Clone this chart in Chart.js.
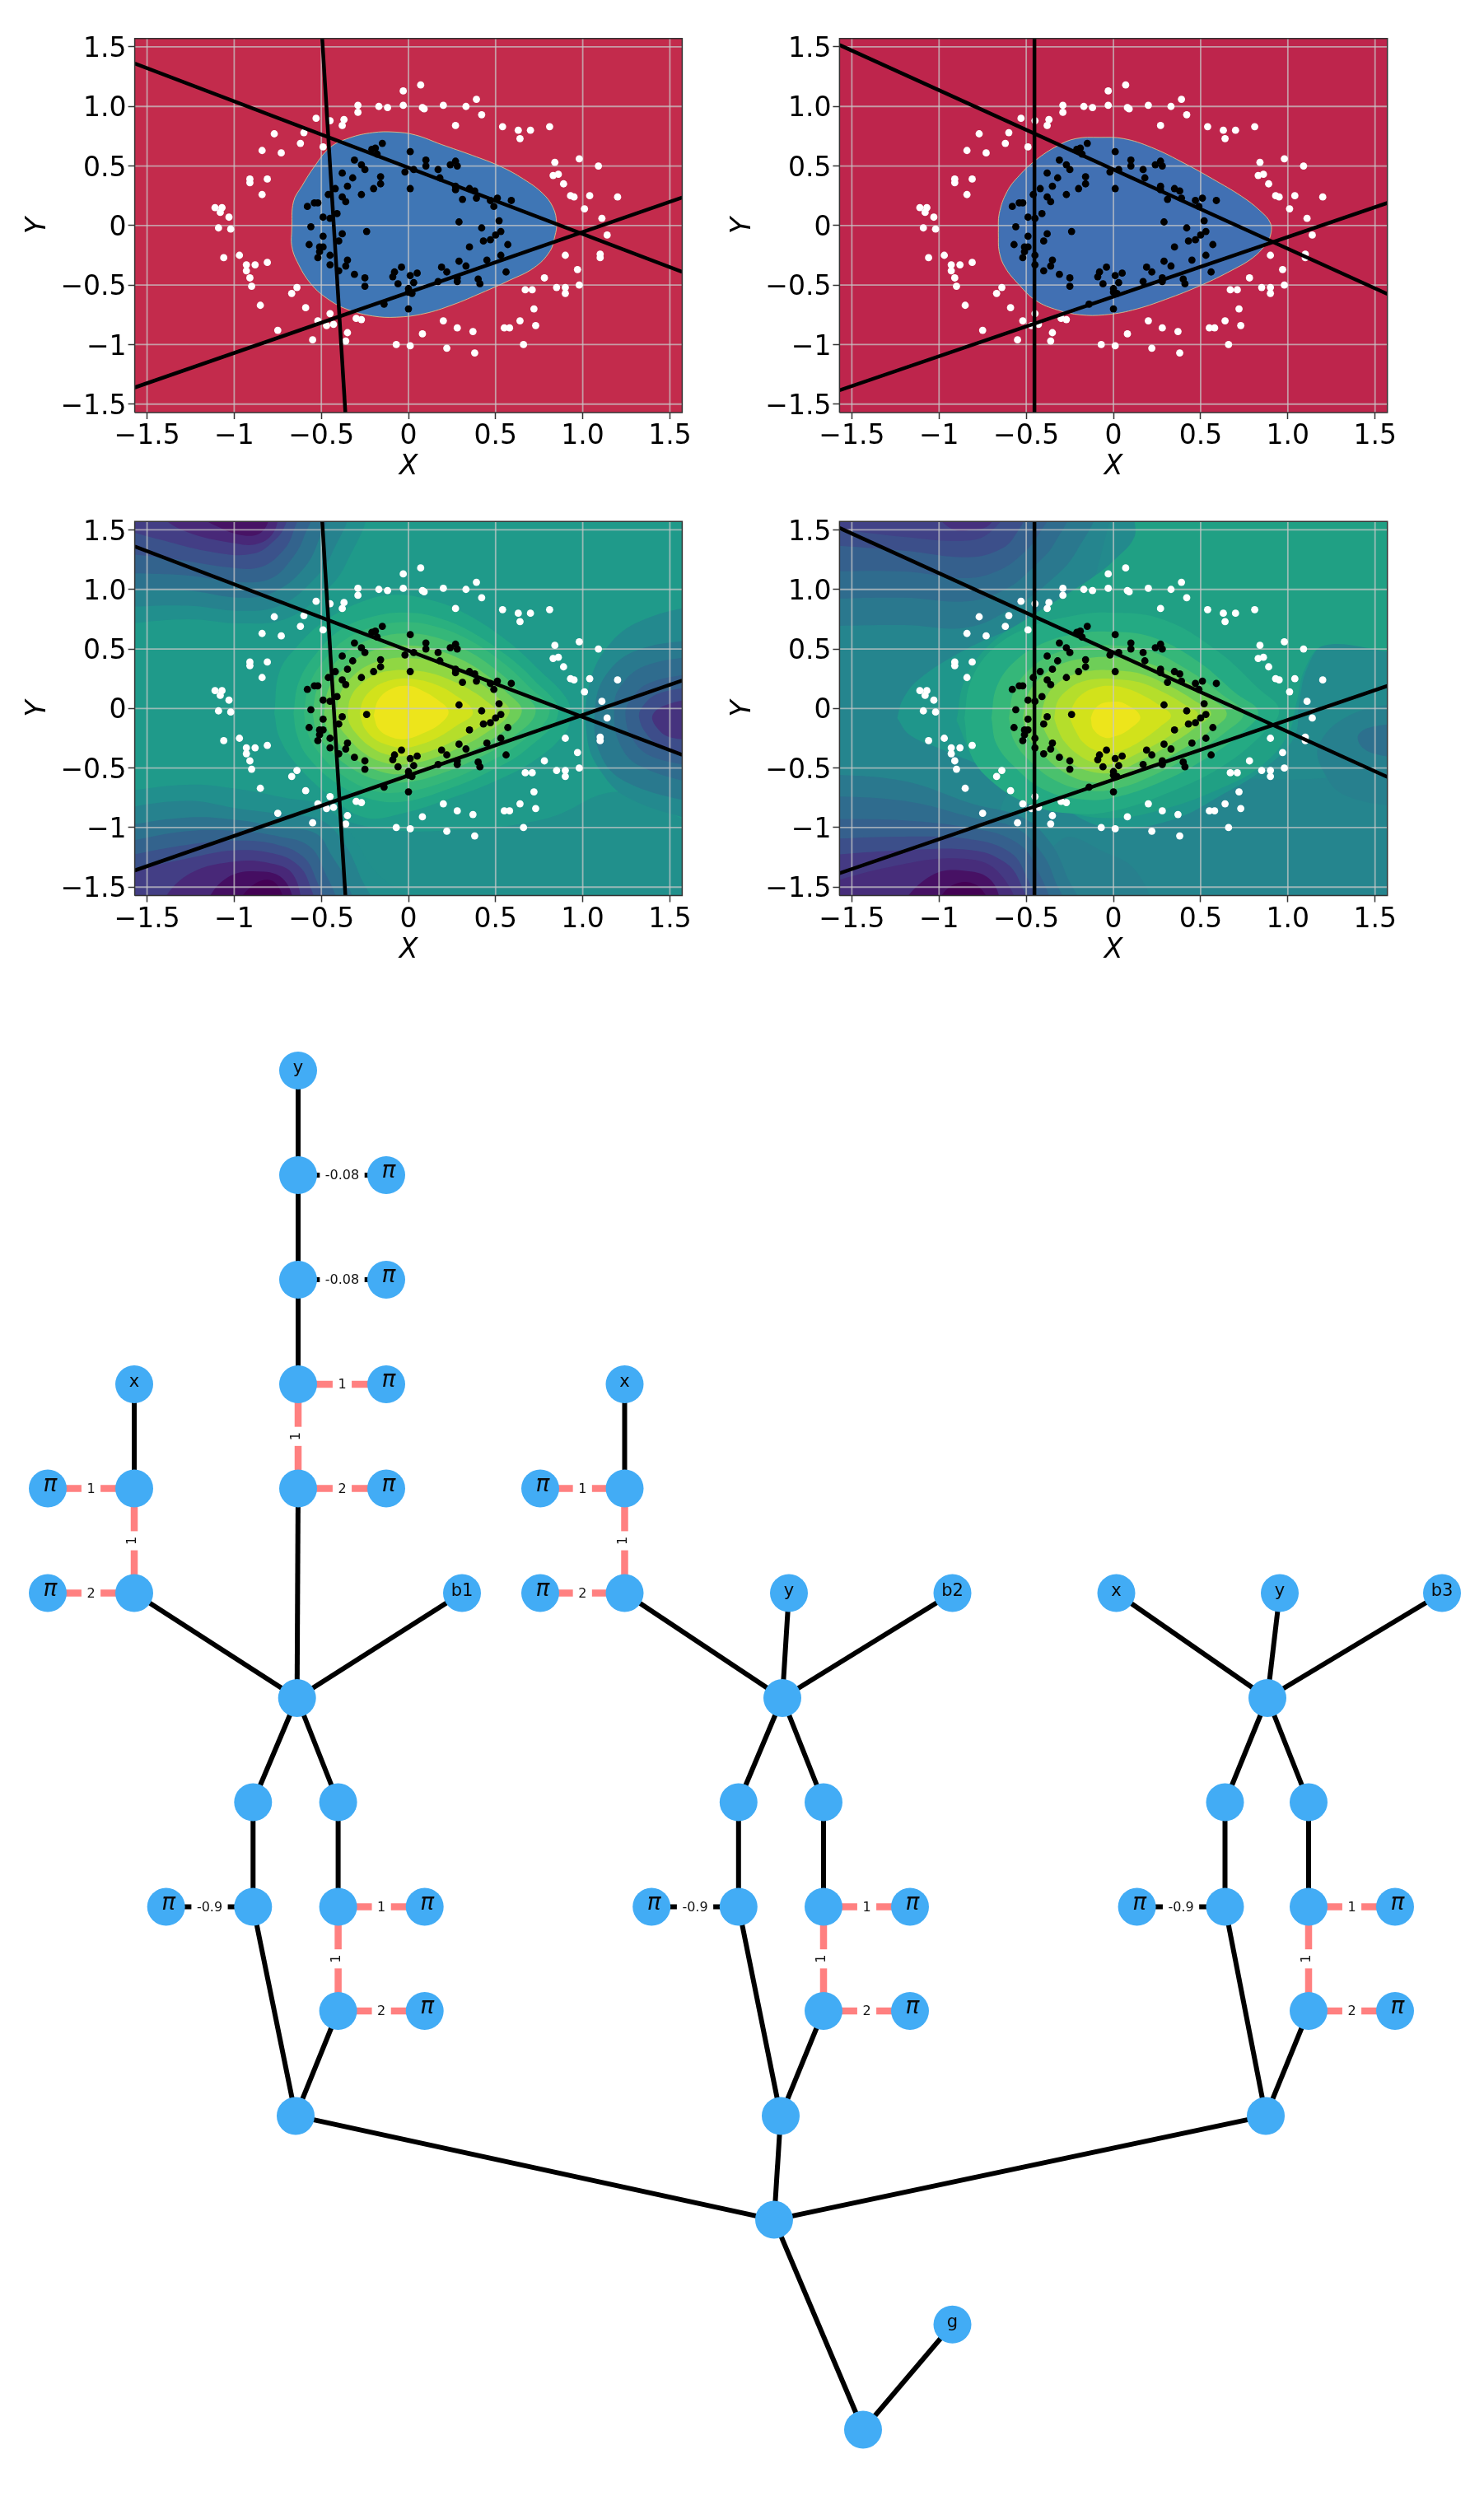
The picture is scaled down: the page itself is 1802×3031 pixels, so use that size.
<!DOCTYPE html>
<html>
<head>
<meta charset="utf-8">
<title>Decision regions and expression graph</title>
<script src="https://cdn.jsdelivr.net/npm/chart.js@4"></script>
<style>
  html, body { margin: 0; padding: 0; background: #fff; }
  body { position: relative; width: 1802px; height: 3031px; overflow: hidden; }
  canvas { position: absolute; }
</style>
</head>
<body>
<canvas id="regiao1"></canvas>
<canvas id="regiao2"></canvas>
<canvas id="campo1"></canvas>
<canvas id="campo2"></canvas>
<canvas id="grafo"></canvas>
<script>
// eixos
const limites = [-1.5708, 1.5708];
const tickValues = [-1.5, -1, -0.5, 0, 0.5, 1, 1.5];
const tickLabels = ["\u22121.5", "\u22121", "\u22120.5", "0", "0.5", "1.0", "1.5"];

// pontos (iguais nos quatro graficos)
const pontosBrancos = [
  [.07,1.18],[-.03,1.13],[-.29,1.01],[-.29,.95],[-.17,1.0],[-.12,.99],[-.03,1.01],[.08,.99],[.09,.98],[.2,1.01],
  [.33,1.0],[.39,1.06],[.42,.93],[.27,.84],[.54,.83],[.63,.8],[.7,.8],[.64,.73],[.81,.83],[-.53,.9],
  [-.45,.88],[-.37,.89],[-.38,.84],[-.6,.78],[-.77,.77],[-.62,.69],[-.49,.66],[-.84,.63],[-.73,.61],[-.91,.39],
  [-.91,.36],[-.81,.39],[-.84,.26],[-1.11,.15],[-1.07,.15],[-1.08,.11],[-1.03,.07],[-1.09,-.02],[-1.02,-.03],[-.97,-.25],
  [-1.06,-.27],[-.93,-.33],[-.88,-.33],[-.93,-.38],[-.81,-.31],[-.91,-.44],[-.9,-.51],[-.64,-.52],[-.67,-.57],[-.85,-.67],
  [-.59,-.69],[-.45,-.74],[-.52,-.8],[-.47,-.84],[-.43,-.83],[-.3,-.78],[-.27,-.79],[-.75,-.88],[-.35,-.9],[-.55,-.96],
  [-.36,-.97],[-.07,-1.0],[.01,-1.01],[.08,-.91],[.2,-.8],[.28,-.86],[.22,-1.03],[.37,-.89],[.38,-1.07],[.55,-.86],
  [.58,-.86],[.64,-.8],[.73,-.84],[.72,-.7],[.66,-1.0],[.67,-.54],[.71,-.54],[.78,-.44],[.85,-.52],[.9,-.52],
  [.9,-.57],[.98,-.5],[.97,-.37],[.9,-.25],[1.1,-.24],[1.1,-.27],[1.14,-.08],[1.11,.06],[1.01,.14],[1.04,.25],
  [1.2,.24],[.93,.25],[.95,.24],[.89,.35],[.83,.42],[.86,.43],[.84,.53],[.98,.56],[1.09,.5]
];
const pontosPretos = [
  [-.15,.69],[-.21,.64],[-.19,.65],[-.18,.6],[.01,.62],[.1,.55],[.1,.5],[-.31,.55],[-.27,.51],[-.25,.47],
  [-.38,.44],[-.02,.45],[.03,.47],[.17,.47],[.24,.51],[.27,.54],[.28,.5],[-.32,.4],[-.16,.41],[.18,.4],
  [-.16,.35],[-.2,.31],[-.35,.33],[-.42,.31],[.01,.31],[.27,.33],[.27,.3],[.35,.31],[.38,.29],[-.46,.26],
  [-.27,.26],[-.38,.24],[-.36,.2],[.31,.22],[.39,.23],[.47,.21],[.51,.23],[.59,.21],[.49,.16],[-.58,.16],
  [-.54,.19],[-.52,.19],[-.49,.07],[-.45,.06],[-.41,.1],[.29,.03],[.52,.04],[-.56,-.01],[-.49,-.09],[-.38,-.07],
  [-.24,-.05],[.42,-.02],[.53,-.05],[.5,-.08],[.47,-.12],[-.4,-.13],[-.57,-.16],[-.51,-.18],[-.49,-.18],[.43,-.13],
  [.35,-.18],[.57,-.16],[-.51,-.22],[-.45,-.25],[-.52,-.27],[-.35,-.29],[.53,-.25],[.45,-.29],[.29,-.3],[-.36,-.34],
  [-.45,-.33],[.33,-.34],[-.04,-.35],[.19,-.35],[-.4,-.38],[.56,-.39],[.22,-.39],[-.08,-.39],[.05,-.4],[.01,-.42],
  [-.31,-.41],[-.09,-.43],[-.25,-.44],[.28,-.44],[.4,-.45],[.17,-.47],[.28,-.47],[-.06,-.49],[.03,-.48],[.41,-.49],
  [-.25,-.51],[0,-.53],[0,-.56],[.02,-.57],[-.14,-.66],[0,-.7]
];

// retas
const retasEsq = [
  [[-1.5708,1.36],[1.5708,-.39]],
  [[-1.5708,-1.36],[1.5708,.235]],
  [[-.495,1.5708],[-.362,-1.5708]]
];
const retasDir = [
  [[-1.5708,1.516],[1.5708,-.575]],
  [[-1.5708,-1.384],[1.5708,.19]],
  [[-.453,1.5708],[-.453,-1.5708]]
];

// fronteiras de decisao
const regiaoEsq = [
  [-.67,-.035],[-.66,.2],[-.61,.335],[-.54,.495],[-.45,.655],[-.34,.735],[-.205,.78],[-.08,.785],[.04,.76],[.19,.68],
  [.365,.59],[.53,.495],[.66,.39],[.77,.27],[.83,.15],[.85,.02],[.84,-.09],[.81,-.22],[.72,-.355],[.58,-.46],
  [.42,-.565],[.255,-.665],[.09,-.74],[-.07,-.77],[-.205,-.76],[-.34,-.71],[-.45,-.63],[-.56,-.49],[-.64,-.3],[-.67,-.17],[-.67,-.035]
];
const regiaoDir = [
  [-.66,-.06],[-.655,.1],[-.61,.285],[-.54,.42],[-.445,.55],[-.32,.67],[-.215,.73],[-.08,.74],[.057,.73],[.22,.655],
  [.41,.52],[.57,.39],[.735,.245],[.84,.125],[.9,.02],[.9,-.085],[.87,-.165],[.8,-.27],[.68,-.375],[.505,-.5],
  [.3,-.62],[.11,-.71],[-.05,-.75],[-.19,-.75],[-.32,-.71],[-.445,-.63],[-.54,-.5],[-.62,-.355],[-.655,-.22],[-.66,-.06]
];

// curvas de nivel, grafico de baixo a esquerda (de tras para frente)
const bandasEsq = [
  [[-1.7,-.72],[-1.1,-.66],[-.6,-.82],[-.2,-1.0],[.3,-1.02],[.8,-.92],[1.2,-.7],[1.7,-.9],[1.7,1.7],[-1.7,1.7]],
  [[-1.7,.7],[-1.27,.75],[-.96,.714],[-.71,.75],[-.52,.93],[-.36,1.21],[-.28,1.7],[-1.7,1.7]],
  [[-1.7,.85],[-1.27,.864],[-.96,.82],[-.74,.864],[-.565,1.05],[-.44,1.3],[-.375,1.7],[-1.7,1.7]],
  [[-1.7,.99],[-1.27,.99],[-.96,.93],[-.77,.98],[-.61,1.16],[-.52,1.395],[-.48,1.7],[-1.7,1.7]],
  [[-1.7,1.14],[-1.27,1.118],[-.96,1.06],[-.785,1.095],[-.67,1.256],[-.6,1.44],[-.565,1.7],[-1.7,1.7]],
  [[-1.7,1.31],[-1.35,1.256],[-1.04,1.187],[-.85,1.187],[-.72,1.325],[-.66,1.49],[-.635,1.7],[-1.7,1.7]],
  [[-1.7,1.53],[-1.43,1.42],[-1.11,1.31],[-.89,1.3],[-.77,1.41],[-.71,1.53],[-.69,1.7],[-1.7,1.7]],
  [[-1.5,1.7],[-1.3,1.5],[-.99,1.385],[-.86,1.385],[-.77,1.49],[-.74,1.7]],
  [[-1.3,1.7],[-1.1,1.53],[-.93,1.45],[-.83,1.5],[-.785,1.7]],
  [[-1.7,-.71],[-1.27,-.64],[-.96,-.68],[-.71,-.75],[-.485,-.82],[-.33,-1.05],[-.2,-1.353],[.03,-1.7],[-1.7,-1.7]],
  [[-1.7,-.85],[-1.27,-.776],[-.96,-.845],[-.71,-.89],[-.5,-.94],[-.375,-1.12],[-.28,-1.4],[-.22,-1.7],[-1.7,-1.7]],
  [[-1.7,-1.0],[-1.27,-.915],[-.96,-.94],[-.74,-1.0],[-.53,-1.05],[-.44,-1.238],[-.36,-1.446],[-.33,-1.7],[-1.7,-1.7]],
  [[-1.7,-1.145],[-1.27,-1.03],[-.96,-1.03],[-.74,-1.076],[-.58,-1.145],[-.5,-1.307],[-.44,-1.7],[-1.7,-1.7]],
  [[-1.7,-1.26],[-1.27,-1.145],[-.96,-1.11],[-.75,-1.145],[-.61,-1.238],[-.54,-1.4],[-.5,-1.7],[-1.7,-1.7]],
  [[-1.7,-1.4],[-1.27,-1.26],[-.99,-1.19],[-.75,-1.226],[-.63,-1.32],[-.57,-1.47],[-.55,-1.7],[-1.7,-1.7]],
  [[-1.46,-1.7],[-1.27,-1.4],[-.99,-1.284],[-.77,-1.307],[-.66,-1.4],[-.6,-1.7]],
  [[-1.2,-1.7],[-1.04,-1.42],[-.83,-1.37],[-.71,-1.446],[-.64,-1.7]],
  [[-1.02,-1.7],[-.88,-1.47],[-.77,-1.457],[-.69,-1.7]],
  [[1.7,.887],[1.355,.75],[1.167,.563],[1.04,.217],[1.025,-.245],[1.1,-.52],[1.26,-.75],[1.7,-.97]],
  [[1.7,.587],[1.32,.494],[1.135,.286],[1.07,-.014],[1.1,-.38],[1.245,-.614],[1.7,-.82]],
  [[1.7,.45],[1.355,.356],[1.21,.17],[1.18,-.014],[1.21,-.29],[1.32,-.476],[1.7,-.66]],
  [[1.7,.31],[1.387,.217],[1.277,.08],[1.245,-.06],[1.29,-.268],[1.4,-.406],[1.7,-.5]],
  [[1.7,.194],[1.434,.125],[1.34,.01],[1.324,-.083],[1.37,-.22],[1.465,-.337],[1.7,-.383]],
  [[1.7,.1],[1.48,.03],[1.4,-.06],[1.434,-.175],[1.51,-.245],[1.7,-.268]],
  [[-.77,-.04],[-.74,.31],[-.64,.52],[-.49,.725],[-.28,.89],[-.08,.955],[.13,.91],[.33,.795],[.57,.565],[.76,.31],[.9,.1],[.93,-.04],[.9,-.2],[.73,-.43],[.49,-.615],[.25,-.75],[-.03,-.88],[-.25,-.915],[-.455,-.73],[-.64,-.475],[-.74,-.245],[-.77,-.04]],
  [[-.66,-.04],[-.63,.22],[-.53,.46],[-.38,.67],[-.18,.78],[0,.805],[.15,.77],[.34,.66],[.55,.46],[.72,.24],[.86,-.03],[.68,-.34],[.45,-.54],[.22,-.68],[-.02,-.78],[-.22,-.76],[-.42,-.62],[-.58,-.4],[-.64,-.22],[-.66,-.04]],
  [[-.6,-.04],[-.57,.2],[-.47,.43],[-.34,.6],[-.16,.7],[0,.725],[.15,.69],[.33,.59],[.52,.41],[.68,.2],[.81,-.03],[.63,-.3],[.42,-.48],[.2,-.62],[-.02,-.7],[-.2,-.69],[-.38,-.56],[-.52,-.36],[-.58,-.2],[-.6,-.04]],
  [[-.55,-.04],[-.52,.18],[-.43,.37],[-.3,.53],[-.14,.61],[0,.63],[.15,.6],[.32,.5],[.48,.35],[.62,.17],[.73,-.03],[.57,-.27],[.38,-.43],[.18,-.55],[-.02,-.62],[-.18,-.6],[-.34,-.49],[-.47,-.32],[-.53,-.18],[-.55,-.04]],
  [[-.485,-.04],[-.46,.16],[-.38,.32],[-.26,.45],[-.12,.52],[0,.53],[.14,.5],[.29,.42],[.43,.3],[.56,.14],[.65,-.03],[.5,-.24],[.33,-.38],[.16,-.49],[-.02,-.55],[-.16,-.53],[-.3,-.43],[-.41,-.28],[-.47,-.16],[-.485,-.04]],
  [[-.415,-.04],[-.39,.13],[-.32,.27],[-.22,.37],[-.1,.42],[0,.425],[.13,.4],[.26,.33],[.39,.23],[.5,.11],[.58,-.03],[.44,-.21],[.29,-.33],[.14,-.42],[-.02,-.47],[-.15,-.45],[-.26,-.37],[-.35,-.24],[-.4,-.14],[-.415,-.04]],
  [[-.35,-.04],[-.33,.1],[-.27,.21],[-.18,.29],[-.08,.32],[0,.32],[.12,.3],[.24,.24],[.35,.16],[.44,.07],[.5,-.03],[.38,-.18],[.25,-.28],[.12,-.36],[-.02,-.4],[-.13,-.385],[-.22,-.32],[-.3,-.21],[-.34,-.12],[-.35,-.04]],
  [[-.28,-.04],[-.26,.07],[-.21,.16],[-.14,.22],[-.05,.25],[.04,.245],[.14,.21],[.25,.13],[.37,-.03],[.27,-.15],[.16,-.25],[.05,-.31],[-.03,-.33],[-.11,-.31],[-.19,-.26],[-.25,-.17],[-.27,-.1],[-.28,-.04]],
  [[-.2,-.06],[-.17,.08],[-.09,.17],[0,.19],[.066,.16],[.16,.08],[.23,-.025],[.18,-.13],[.08,-.21],[-.01,-.255],[-.09,-.245],[-.17,-.175],[-.2,-.06]]
];
const coresEsq = [
  "#1F9A8A",
  "#218F8D","#26828E","#2C728E","#33638D","#3B528B","#433E85","#482878","#471365",
  "#218F8D","#26828E","#2C728E","#33638D","#3B528B","#433E85","#482878","#450E62","#440154",
  "#23898E","#29798E","#2F6C8E","#35608D","#3D4D8A","#46337E",
  "#21A685","#2AB07F","#35B779","#4AC16D","#6ECE58","#90D743","#B5DE2B","#D2E21B","#EDE51B"
];

// curvas de nivel, grafico de baixo a direita
const bandasDir = [
  [[-.6,-1.7],[-.6,-.7],[0,-.6],[1.7,-.3],[1.7,1.7],[0,1.7]],
  [[-1.24,-.08],[-1.21,.07],[-1.12,.24],[-.855,.49],[-.57,.68],[-.33,.84],[-.18,.98],[-.04,1.13],[.075,1.25],[.14,1.44],[.145,1.7],[1.7,1.7],[1.7,.56],[1.22,.54],[1.113,.344],[1.066,.055],[1.035,-.245],[.86,-.51],[.64,-.71],[.327,-.94],[-.035,-1.0],[-.335,-.8],[-.65,-.55],[-.995,-.337],[-1.17,-.22],[-1.24,-.08]],
  [[-.9,-.1],[-.85,.25],[-.7,.55],[-.5,.75],[-.3,.93],[-.12,1.1],[0,1.24],[.12,1.44],[.14,1.7],[1.7,1.7],[1.7,.55],[1.21,.53],[1.1,.34],[1.05,.05],[1.0,-.22],[.84,-.49],[.6,-.68],[.3,-.84],[0,-.92],[-.3,-.85],[-.6,-.62],[-.8,-.4],[-.9,-.1]],
  [[1.7,.067],[1.35,-.06],[1.176,-.314],[1.21,-.545],[1.33,-.73],[1.7,-.845]],
  [[1.7,-.118],[1.46,-.164],[1.4,-.245],[1.46,-.36],[1.7,-.43]],
  [[-1.7,.69],[-1.2,.7],[-.84,.68],[-.585,.84],[-.38,1.05],[-.21,1.325],[-.13,1.7],[-1.7,1.7]],
  [[-1.7,.92],[-1.2,.93],[-.84,.9],[-.62,1.0],[-.46,1.187],[-.335,1.395],[-.27,1.7],[-1.7,1.7]],
  [[-1.7,1.15],[-1.2,1.15],[-.84,1.095],[-.65,1.164],[-.52,1.3],[-.43,1.46],[-.365,1.7],[-1.7,1.7]],
  [[-1.7,1.38],[-1.2,1.325],[-.84,1.27],[-.665,1.325],[-.57,1.44],[-.51,1.7],[-1.7,1.7]],
  [[-1.7,1.53],[-1.2,1.44],[-.84,1.41],[-.7,1.49],[-.62,1.7],[-1.7,1.7]],
  [[-1.06,1.7],[-.93,1.51],[-.81,1.5],[-.71,1.545],[-.665,1.7]],
  [[-.5,-1.7],[-.3,-1.1],[-.03,-1.22],[.12,-1.35],[.25,-1.7]],
  [[-1.7,-.545],[-1.2,-.61],[-.81,-.8],[-.52,-.915],[-.365,-1.12],[-.27,-1.4],[-.21,-1.7],[-1.7,-1.7]],
  [[-1.7,-.73],[-1.2,-.776],[-.81,-.915],[-.555,-1.007],[-.41,-1.215],[-.335,-1.446],[-.29,-1.7],[-1.7,-1.7]],
  [[-1.7,-.926],[-1.2,-.94],[-.81,-1.007],[-.585,-1.1],[-.46,-1.284],[-.4,-1.7],[-1.7,-1.7]],
  [[-1.7,-1.1],[-1.2,-1.076],[-.81,-1.1],[-.6,-1.2],[-.51,-1.376],[-.46,-1.7],[-1.7,-1.7]],
  [[-1.7,-1.238],[-1.2,-1.19],[-.81,-1.19],[-.63,-1.284],[-.54,-1.446],[-.51,-1.7],[-1.7,-1.7]],
  [[-1.7,-1.49],[-1.28,-1.33],[-.885,-1.26],[-.665,-1.365],[-.585,-1.7],[-1.7,-1.7]],
  [[-1.26,-1.7],[-1.04,-1.4],[-.84,-1.365],[-.7,-1.446],[-.63,-1.7]],
  [[-1.04,-1.7],[-.93,-1.49],[-.79,-1.48],[-.68,-1.7]],
  [[-.855,-.08],[-.82,.22],[-.7,.49],[-.49,.68],[-.26,.77],[-.03,.805],[.28,.75],[.59,.49],[.83,.17],[.95,-.015],[.85,-.22],[.63,-.48],[.36,-.68],[0,-.86],[-.26,-.88],[-.49,-.8],[-.7,-.61],[-.82,-.38],[-.855,-.08]],
  [[-.7,-.08],[-.67,.18],[-.57,.39],[-.4,.55],[-.2,.63],[-.02,.645],[.22,.6],[.48,.4],[.7,.13],[.83,-.03],[.73,-.21],[.53,-.42],[.3,-.6],[0,-.75],[-.2,-.76],[-.4,-.68],[-.56,-.5],[-.67,-.3],[-.7,-.08]],
  [[-.6,-.08],[-.57,.15],[-.48,.33],[-.34,.46],[-.17,.52],[-.01,.53],[.2,.49],[.43,.32],[.62,.12],[.745,-.04],[.65,-.19],[.47,-.37],[.26,-.54],[0,-.68],[-.18,-.68],[-.34,-.6],[-.48,-.44],[-.57,-.27],[-.6,-.08]],
  [[-.52,-.08],[-.49,.12],[-.41,.27],[-.29,.38],[-.14,.425],[-.01,.43],[.18,.39],[.38,.26],[.54,.1],[.65,-.04],[.56,-.18],[.41,-.33],[.22,-.48],[0,-.615],[-.16,-.61],[-.29,-.53],[-.41,-.38],[-.49,-.24],[-.52,-.08]],
  [[-.415,-.08],[-.39,.08],[-.33,.2],[-.23,.285],[-.11,.32],[-.01,.32],[.16,.29],[.32,.19],[.46,.07],[.56,-.04],[.47,-.16],[.34,-.29],[.18,-.42],[0,-.535],[-.13,-.53],[-.24,-.46],[-.33,-.33],[-.39,-.2],[-.415,-.08]],
  [[-.34,-.08],[-.32,.06],[-.26,.16],[-.18,.225],[-.08,.25],[.02,.245],[.15,.22],[.28,.14],[.4,.04],[.485,-.05],[.4,-.15],[.29,-.26],[.15,-.37],[0,-.465],[-.11,-.455],[-.2,-.39],[-.28,-.28],[-.32,-.17],[-.34,-.08]],
  [[-.25,-.08],[-.23,.03],[-.18,.12],[-.1,.175],[-.02,.19],[.07,.17],[.17,.11],[.26,.03],[.33,-.06],[.27,-.15],[.17,-.26],[.07,-.34],[-.02,-.38],[-.09,-.36],[-.17,-.29],[-.22,-.18],[-.25,-.08]],
  [[-.13,-.08],[-.11,-.01],[-.07,.04],[-.02,.055],[.06,.044],[.154,-.07],[.09,-.175],[.012,-.233],[-.05,-.245],[-.115,-.175],[-.13,-.08]]
];
const coresDir = [
  "#238A8D","#1F968B","#20A084","#27808E","#2D708E",
  "#2A788E","#2F6C8E","#35608D","#3C4F8A","#414287","#46307E",
  "#28808E","#2A788E","#2F6C8E","#35608D","#3C4F8A","#443A83","#472D7B","#471164","#440154",
  "#24AA83","#35B779","#4AC16D","#6ECE58","#95D840","#B5DE2B","#D2E21B","#EDE51B"
];

// grafo de expressao
const nodeX = [362,362,469,362,469,362,469,362,469,163,163,58,163,58,561,360.7,307.3,410.6,307.3,410.6,201.7,515.7,410.6,515.7,359,
  758.5,758.5,656,758.5,656,958,1156.5,950,896.8,1000,896.8,1000,791.2,1105,1000,1105,948,
  1355.5,1554,1751,1539,1487.5,1589,1487.5,1589,1380.6,1694,1589,1694,1537,940,1048,1156.5];
const nodeY = [1300,1427,1427,1554,1554,1681,1681,1807.5,1807.5,1681,1807.5,1807.5,1934.5,1934.5,1934.5,2062,2188.5,2188.5,2315.5,2315.5,2315.5,2315.5,2442,2442,2569.4,
  1681,1807.5,1807.5,1934.5,1934.5,1934.5,1934.5,2062,2188.5,2188.5,2315.5,2315.5,2315.5,2315.5,2442,2442,2569.4,
  1934.5,1934.5,1934.5,2062,2188.5,2188.5,2315.5,2315.5,2315.5,2315.5,2442,2442,2569.4,2695.6,2950.5,2822.8];
const nodeText = ["y","","\u03c0","","\u03c0","","\u03c0","","\u03c0","x","","\u03c0","","\u03c0","b1","","","","","","\u03c0","\u03c0","","\u03c0","",
  "x","","\u03c0","","\u03c0","y","b2","","","","","","\u03c0","\u03c0","","\u03c0","",
  "x","y","b3","","","","","","\u03c0","\u03c0","","\u03c0","","","","g"];
const edgeFrom = [0,1,3,1,3,5,7,5,7,9,10,10,12,12,14,15,15,16,17,18,18,19,19,22,22,24,
  25,26,26,28,28,30,31,32,32,33,34,35,35,36,36,39,39,41,
  42,43,44,45,45,46,47,48,48,49,49,52,52,54,55,56];
const edgeTo = [1,3,5,2,4,6,8,7,15,10,11,12,13,15,15,16,17,18,19,20,24,21,22,23,24,55,
  26,27,28,29,32,32,32,33,34,35,36,37,41,38,39,40,41,55,
  45,45,45,46,47,48,49,50,54,51,52,53,54,55,56,57];
const edgeLabel = ["","","","-0.08","-0.08","1","2","1","","","1","1","2","","","","","","","-0.9","","1","1","2","","",
  "","1","1","2","","","","","","","","-0.9","","1","1","2","","",
  "","","","","","","","-0.9","","1","1","2","","","",""];

const fonte = '"DejaVu Sans"';

function xy(lista) {
  return lista.map(([x, y]) => ({ x, y }));
}

function retangulo() {
  const [a, b] = limites;
  return [[a, a], [b, a], [b, b], [a, b], [a, a]];
}

function linhasDeGrade() {
  const [a, b] = limites;
  const v = tickValues.map(t => [[t, a], [t, b]]);
  const h = tickValues.map(t => [[a, t], [b, t]]);
  return v.concat(h);
}

function montarDatasets(bandas, cores, retas, contorno) {
  const ds = [];
  bandas.forEach((b, i) => {
    ds.push({
      data: xy(b),
      showLine: true,
      fill: "shape",
      backgroundColor: cores[i],
      borderColor: (contorno && i > 0) ? "rgba(232,205,140,0.8)" : cores[i],
      borderWidth: (contorno && i > 0) ? 1 : 0,
      pointRadius: 0,
      tension: (i === 0) ? 0 : 0.4,
      capBezierPoints: false,
    });
  });
  linhasDeGrade().forEach(g => {
    ds.push({ data: xy(g), showLine: true, borderColor: "rgba(200,200,200,0.72)", borderWidth: 1.8, pointRadius: 0 });
  });
  ds.push({ data: xy(pontosBrancos), backgroundColor: "#fff", borderWidth: 0, pointRadius: 4.4, showLine: false });
  ds.push({ data: xy(pontosPretos), backgroundColor: "#000", borderWidth: 0, pointRadius: 4.4, showLine: false });
  retas.forEach(r => {
    ds.push({ data: xy(r), showLine: true, borderColor: "#000", borderWidth: 4.5, pointRadius: 0 });
  });
  ds.push({ data: xy(retangulo()), showLine: true, borderColor: "#333", borderWidth: 1.5, pointRadius: 0, clip: false });
  // o primeiro da lista fica no fundo
  ds.forEach((d, i) => { d.order = ds.length - i; });
  return ds;
}

function eixo(titulo, tamanho, paddingTitulo, deslocamento) {
  return {
    type: "linear",
    min: limites[0],
    max: limites[1],
    afterBuildTicks: s => { s.ticks = tickValues.map(value => ({ value })); },
    afterFit: s => {
      if (s.isHorizontal()) {
        s.height = tamanho;
        s.paddingLeft = 0;
        s.paddingRight = 0;
      } else {
        s.width = tamanho;
        s.paddingTop = 0;
        s.paddingBottom = 0;
      }
    },
    grid: { drawOnChartArea: false, drawTicks: true, tickLength: 8, tickColor: "#333", tickWidth: 1.5 },
    border: { display: false },
    ticks: {
      autoSkip: false,
      maxRotation: 0,
      padding: 2,
      labelOffset: deslocamento,
      color: "#000",
      font: { family: fonte, size: 33 },
      callback: (v, i) => tickLabels[i],
    },
    title: {
      display: true,
      text: titulo,
      color: "#000",
      font: { family: fonte, size: 33, style: "italic" },
      padding: paddingTitulo,
    },
  };
}

function graficoPlano(id, area, bandas, cores, retas, contorno) {
  const canvas = document.getElementById(id);
  const margemEsq = 164, margemTopo = 47, margemDir = 72, margemBaixo = 89;
  const x0 = Math.floor(area.esq) - margemEsq;
  const y0 = Math.floor(area.topo) - margemTopo;
  canvas.style.left = x0 + "px";
  canvas.style.top = y0 + "px";
  canvas.width = Math.ceil(area.dir - x0) + margemDir;
  canvas.height = Math.ceil(area.base - y0) + margemBaixo;
  new Chart(canvas, {
    type: "scatter",
    data: { datasets: montarDatasets(bandas, cores, retas, contorno) },
    options: {
      responsive: false,
      animation: false,
      devicePixelRatio: 1,
      events: [],
      layout: {
        autoPadding: false,
        padding: {
          left: 0,
          top: area.topo - y0,
          right: canvas.width - (area.dir - x0),
          bottom: 0,
        },
      },
      plugins: { legend: { display: false }, tooltip: { enabled: false }, title: { display: false } },
      scales: {
        x: eixo("X", canvas.height - (area.base - y0), { top: 0, bottom: 3 }, 0),
        y: eixo("Y", area.esq - x0, { top: 28, bottom: 0 }, 3.5),
      },
    },
  });
}

const fundoEsq = "#C32B4C", fundoDir = "#BE254C";
graficoPlano("regiao1", { esq: 163.6, dir: 828.4, topo: 46.7, base: 501 },
  [retangulo(), regiaoEsq], [fundoEsq, "#3F76B5"], retasEsq, true);
graficoPlano("regiao2", { esq: 1019.4, dir: 1684.7, topo: 46.7, base: 501 },
  [retangulo(), regiaoDir], [fundoDir, "#4170B3"], retasDir, true);
graficoPlano("campo1", { esq: 163.6, dir: 828.4, topo: 633.2, base: 1087.5 },
  [retangulo()].concat(bandasEsq), ["#21908C"].concat(coresEsq), retasEsq, false);
graficoPlano("campo2", { esq: 1019.4, dir: 1684.7, topo: 633.2, base: 1087.5 },
  [retangulo()].concat(bandasDir), ["#25858E"].concat(coresDir), retasDir, false);

// textos do grafo
const textosGrafo = {
  id: "textosGrafo",
  afterDatasetsDraw(chart) {
    const { ctx, scales: { x, y } } = chart;
    ctx.save();
    ctx.textAlign = "center";
    ctx.textBaseline = "middle";
    edgeLabel.forEach((txt, i) => {
      if (!txt) return;
      const a = edgeFrom[i], b = edgeTo[i];
      const mx = x.getPixelForValue((nodeX[a] + nodeX[b]) / 2);
      const my = y.getPixelForValue((nodeY[a] + nodeY[b]) / 2);
      const vertical = Math.abs(nodeX[a] - nodeX[b]) < 1;
      ctx.save();
      ctx.translate(mx, my);
      if (vertical) ctx.rotate(-Math.PI / 2);
      ctx.font = `16px ${fonte}`;
      const w = ctx.measureText(txt).width + 13;
      ctx.fillStyle = "#fff";
      ctx.fillRect(-w / 2, -11, w, 22);
      ctx.fillStyle = "#111";
      ctx.fillText(txt, 0, vertical ? -2 : 1);
      ctx.restore();
    });
    ctx.fillStyle = "#0a0a0a";
    nodeText.forEach((txt, i) => {
      if (!txt) return;
      const px = x.getPixelForValue(nodeX[i]);
      const py = y.getPixelForValue(nodeY[i]);
      if (txt === "\u03c0") {
        ctx.font = `italic 28px ${fonte}`;
        ctx.fillText(txt, px + 3, py - 4);
      } else {
        ctx.font = `21px ${fonte}`;
        ctx.fillText(txt, px, py - 2);
      }
    });
    ctx.restore();
  },
};

const canvasGrafo = document.getElementById("grafo");
canvasGrafo.style.left = "0px";
canvasGrafo.style.top = "1250px";
canvasGrafo.width = 1802;
canvasGrafo.height = 1781;

const datasetsGrafo = edgeFrom.map((a, i) => {
  const b = edgeTo[i];
  const positivo = edgeLabel[i] !== "" && edgeLabel[i][0] !== "-";
  return {
    data: [{ x: nodeX[a], y: nodeY[a] }, { x: nodeX[b], y: nodeY[b] }],
    showLine: true,
    borderColor: positivo ? "#FF8080" : "#000",
    borderWidth: positivo ? 8.5 : 6,
    pointRadius: 0,
    order: 2,
  };
});
datasetsGrafo.push({
  data: nodeX.map((v, i) => ({ x: v, y: nodeY[i] })),
  backgroundColor: "#42ACF5",
  borderWidth: 0,
  pointRadius: 23,
  showLine: false,
  order: 1,
});

new Chart(canvasGrafo, {
  type: "scatter",
  data: { datasets: datasetsGrafo },
  options: {
    responsive: false,
    animation: false,
    devicePixelRatio: 1,
    events: [],
    layout: { padding: 0, autoPadding: false },
    plugins: { legend: { display: false }, tooltip: { enabled: false }, title: { display: false } },
    scales: {
      x: { type: "linear", display: false, min: 0, max: 1802 },
      y: { type: "linear", display: false, reverse: true, min: 1250, max: 3031 },
    },
  },
  plugins: [textosGrafo],
});
</script>
</body>
</html>
